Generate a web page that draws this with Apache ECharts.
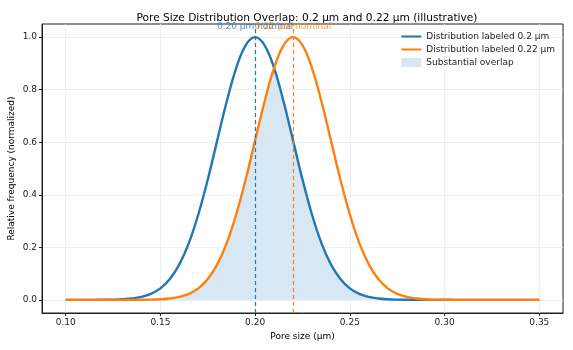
<!DOCTYPE html>
<html><head><meta charset="utf-8">
<script src="https://cdn.jsdelivr.net/npm/echarts@6/dist/echarts.min.js"></script>
<style>html,body{margin:0;padding:0;background:#fff}#c{width:573px;height:350px}</style>
</head><body><div id="c"></div>
<script>
const poreSize = [0.100,0.105,0.110,0.115,0.120,0.125,0.130,0.135,0.140,0.145,0.150,0.155,0.160,0.165,0.170,0.175,0.180,0.185,0.190,0.195,0.200,0.205,0.210,0.215,0.220,0.225,0.230,0.235,0.240,0.245,0.250,0.255,0.260,0.265,0.270,0.275,0.280,0.285,0.290,0.295,0.300,0.305,0.310,0.315,0.320,0.325,0.330,0.335,0.340,0.345,0.350];
const dist02 = [0,0,0,0.0001,0.0003,0.0009,0.0022,0.0051,0.0111,0.0228,0.0439,0.0796,0.135,0.216,0.325,0.458,0.607,0.755,0.882,0.969,1.000,0.969,0.882,0.755,0.607,0.458,0.325,0.216,0.135,0.0796,0.0439,0.0228,0.0111,0.0051,0.0022,0.0009,0.0003,0.0001,0,0,0,0,0,0,0,0,0,0,0,0,0];
const dist022 = [0,0,0,0,0,0,0,0.0001,0.0003,0.0009,0.0022,0.0051,0.0111,0.0228,0.0439,0.0796,0.135,0.216,0.325,0.458,0.607,0.755,0.882,0.969,1.000,0.969,0.882,0.755,0.607,0.458,0.325,0.216,0.135,0.0796,0.0439,0.0228,0.0111,0.0051,0.0022,0.0009,0.0003,0.0001,0,0,0,0,0,0,0,0,0];
const xTicks = [0.10,0.15,0.20,0.25,0.30,0.35];
const yTicks = [0.0,0.2,0.4,0.6,0.8,1.0];
const nominals = [0.20, 0.22];
const nominalLabels = ['0.20 µm nominal', '0.22 µm nominal'];
const seriesNames = ['Distribution labeled 0.2 µm', 'Distribution labeled 0.22 µm', 'Substantial overlap'];

const C0 = '#1f77b4', C1 = '#ff7f0e', FILL = '#d7e7f3';
const FONT = 'DejaVu Sans';
const overlap = dist02.map((v, i) => Math.min(v, dist022[i]));
const pairs = arr => poreSize.map((x, i) => [x, arr[i]]);

const chart = echarts.init(document.getElementById('c'), null, {renderer: 'canvas'});
chart.setOption({
  animation: false,
  textStyle: {fontFamily: FONT},
  title: {
    text: 'Pore Size Distribution Overlap: 0.2 µm and 0.22 µm (illustrative)',
    left: 302, top: 8, textAlign: 'center',
    textStyle: {fontFamily: FONT, fontSize: 10.6, fontWeight: 'normal', color: '#000'}
  },
  legend: {
    data: [
      {name: seriesNames[0], itemStyle: {opacity: 0}},
      {name: seriesNames[1], itemStyle: {opacity: 0}},
      {name: seriesNames[2], icon: 'rect'}
    ],
    orient: 'vertical', right: 13, top: 27, itemGap: 4,
    itemWidth: 20, itemHeight: 9,
    textStyle: {fontFamily: FONT, fontSize: 9, color: '#222'}
  },
  grid: {left: 42, right: 10, top: 24, bottom: 37, outerBoundsMode: 'none', containLabel: false,
    show: true, borderColor: '#222', borderWidth: 1, backgroundColor: 'transparent'},
  xAxis: {
    type: 'value', min: 0.0875, max: 0.3625,
    name: 'Pore size (µm)', nameLocation: 'middle', nameGap: 19, nameMoveOverlap: false,
    nameTextStyle: {fontFamily: FONT, fontSize: 9, color: '#000'},
    axisLine: {show: true, onZero: false, lineStyle: {color: '#222'}},
    axisTick: {show: true, customValues: xTicks, length: 3, lineStyle: {color: '#222'}},
    axisLabel: {customValues: xTicks, formatter: v => v.toFixed(2), fontFamily: FONT, fontSize: 9, color: '#222', margin: 5},
    splitLine: {show: true, lineStyle: {color: '#ebebeb', width: 0.8}}
  },
  yAxis: {
    type: 'value', min: -0.05, max: 1.05,
    name: 'Relative frequency (normalized)', nameLocation: 'middle', nameGap: 26, nameMoveOverlap: false,
    nameTextStyle: {fontFamily: FONT, fontSize: 9, color: '#000'},
    axisLine: {show: true, onZero: false, lineStyle: {color: '#222'}},
    axisTick: {show: true, customValues: yTicks, length: 3, lineStyle: {color: '#222'}},
    axisLabel: {customValues: yTicks, formatter: v => v.toFixed(1), fontFamily: FONT, fontSize: 9, color: '#222', margin: 5},
    splitLine: {show: true, lineStyle: {color: '#ebebeb', width: 0.8}}
  },
  series: [
    {
      name: seriesNames[2], type: 'line', data: pairs(overlap), smooth: 0.4, symbol: 'none', z: 1,
      itemStyle: {color: FILL}, lineStyle: {width: 0, color: FILL},
      areaStyle: {color: FILL, opacity: 1}
    },
    {
      name: seriesNames[0], type: 'line', data: pairs(dist02), smooth: 0.4, symbol: 'none', z: 3,
      itemStyle: {color: C0}, lineStyle: {width: 2.4, color: C0},
      markLine: {silent: true, symbol: ['none', 'none'], label: {show: false},
        lineStyle: {color: C0, type: [4, 3], width: 1.2}, data: [{xAxis: nominals[0]}]}
    },
    {
      name: seriesNames[1], type: 'line', data: pairs(dist022), smooth: 0.4, symbol: 'none', z: 3,
      itemStyle: {color: C1}, lineStyle: {width: 2.4, color: C1},
      markLine: {silent: true, symbol: ['none', 'none'], label: {show: false},
        lineStyle: {color: C1, type: [4, 3], width: 1.2}, data: [{xAxis: nominals[1]}]}
    },
    {
      type: 'scatter', symbolSize: 0, silent: true, z: 5,
      data: [[nominals[0], 1.04]],
      label: {show: true, position: 'inside', formatter: nominalLabels[0], color: C0, fontFamily: FONT, fontSize: 9}
    },
    {
      type: 'scatter', symbolSize: 0, silent: true, z: 6,
      data: [[nominals[1], 1.04]],
      label: {show: true, position: 'inside', formatter: nominalLabels[1], color: C1, fontFamily: FONT, fontSize: 9}
    }
  ]
});
</script></body></html>
